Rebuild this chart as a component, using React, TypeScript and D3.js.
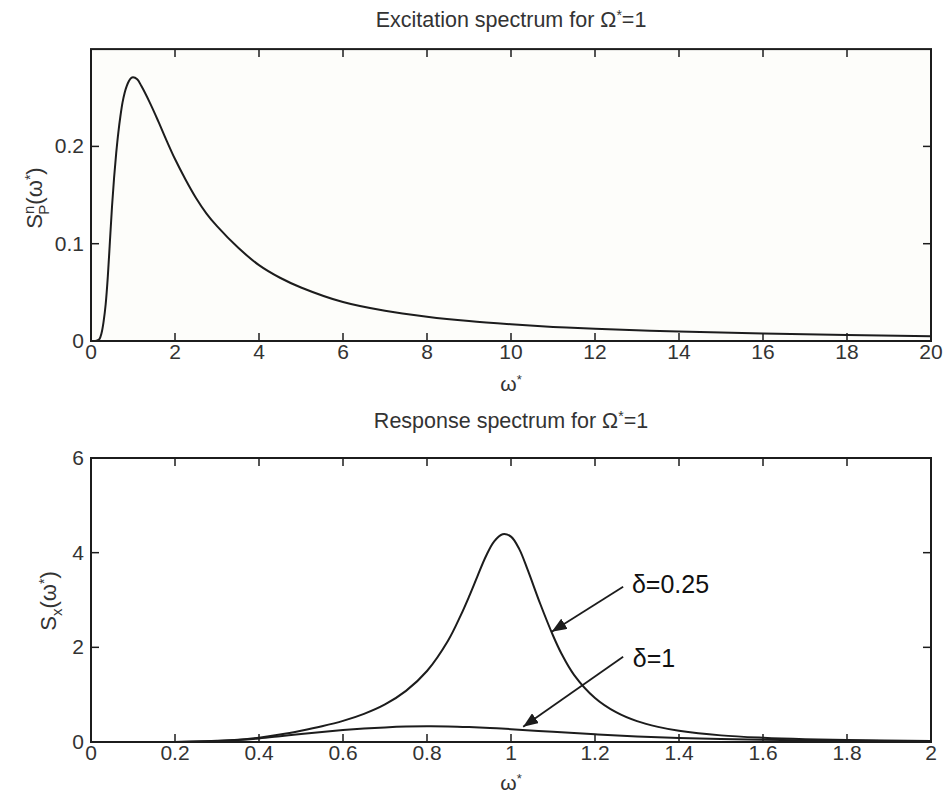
import React from "react";
import * as d3 from "d3";

// ---- Data ----
const excOmega = [0,0.1,0.15,0.2,0.25,0.3,0.35,0.4,0.45,0.5,0.55,0.6,0.65,0.7,0.75,0.8,0.85,0.9,0.95,1.0,1.1,1.2,1.4,1.6,1.8,2,2.25,2.5,2.75,3,3.5,4,4.5,5,6,7,8,9,10,11,12,14,16,18,20];
const excValues = [0,0,0.0005,0.002,0.008,0.02,0.038,0.066,0.102,0.138,0.168,0.193,0.214,0.231,0.245,0.255,0.262,0.267,0.270,0.271,0.269,0.262,0.245,0.226,0.206,0.187,0.166,0.147,0.131,0.118,0.096,0.078,0.065,0.055,0.040,0.031,0.025,0.0205,0.0172,0.0145,0.0125,0.0098,0.0078,0.0062,0.0048];

const resOmega025 = [0,0.2,0.25,0.3,0.35,0.4,0.45,0.5,0.55,0.6,0.65,0.7,0.75,0.8,0.85,0.88,0.9,0.92,0.94,0.96,0.98,1.0,1.02,1.04,1.07,1.1,1.12,1.15,1.2,1.25,1.3,1.35,1.4,1.5,1.6,1.7,1.8,2.0];
const resValues025 = [0,0.002,0.009,0.025,0.049,0.092,0.157,0.239,0.333,0.446,0.595,0.795,1.08,1.50,2.14,2.67,3.07,3.5,3.92,4.24,4.39,4.34,4.07,3.63,2.91,2.25,1.87,1.42,0.93,0.63,0.44,0.32,0.238,0.14,0.089,0.058,0.04,0.02];

const resOmega1 = [0,0.2,0.3,0.35,0.4,0.45,0.5,0.55,0.6,0.65,0.7,0.75,0.8,0.85,0.9,0.95,1.0,1.1,1.2,1.3,1.4,1.5,1.6,1.8,2.0];
const resValues1 = [0,0.002,0.022,0.043,0.076,0.122,0.17,0.213,0.251,0.283,0.308,0.325,0.331,0.328,0.315,0.296,0.271,0.214,0.162,0.118,0.086,0.063,0.046,0.025,0.014];

const topXTicks = [0,2,4,6,8,10,12,14,16,18,20];
const topYTicks = [0,0.1,0.2];
const botXTicks = [0,0.2,0.4,0.6,0.8,1,1.2,1.4,1.6,1.8,2];
const botYTicks = [0,2,4,6];

const topTitle = "Excitation spectrum for Ω";
const botTitle = "Response spectrum for Ω";

// annotation: label, text anchor point, arrow start, arrow tip (data coords)
const annLabels = ["δ=0.25", "δ=1"];
const annText = [[1.288, 3.15], [1.29, 1.58]];
const annFrom = [[1.267, 3.28], [1.267, 1.80]];
const annTip = [[1.097, 2.33], [1.029, 0.32]];

const FONT = "'Liberation Sans', Arial, Helvetica, sans-serif";
const INK = "#1c1c1c";
const TXT = "#333";

function Axes({ x, y, xTicks, yTicks, bg }: any) {
  const [x0, x1] = x.range();
  const [y0, y1] = y.range();
  const tl = 8;
  return (
    <g>
      <rect x={x0} y={y1} width={x1 - x0} height={y0 - y1} fill={bg} />
      {xTicks.map((t: number) => (
        <g key={"xt" + t}>
          <line x1={x(t)} x2={x(t)} y1={y0} y2={y0 - tl} stroke={INK} strokeWidth={1.5} />
          <line x1={x(t)} x2={x(t)} y1={y1} y2={y1 + tl} stroke={INK} strokeWidth={1.5} />
          <text x={x(t)} y={y0 + 18} fontSize={21} fill={TXT} textAnchor="middle" fontFamily={FONT}>{String(t)}</text>
        </g>
      ))}
      {yTicks.map((t: number) => (
        <g key={"yt" + t}>
          <line x1={x0} x2={x0 + tl} y1={y(t)} y2={y(t)} stroke={INK} strokeWidth={1.5} />
          <line x1={x1} x2={x1 - tl} y1={y(t)} y2={y(t)} stroke={INK} strokeWidth={1.5} />
          <text x={x0 - 7} y={y(t) + 7} fontSize={21} fill={TXT} textAnchor="end" fontFamily={FONT}>{String(t)}</text>
        </g>
      ))}
    </g>
  );
}

function Frame({ x, y }: any) {
  const [x0, x1] = x.range();
  const [y0, y1] = y.range();
  return <rect x={x0} y={y1} width={x1 - x0} height={y0 - y1} fill="none" stroke={INK} strokeWidth={2} />;
}

export default function App() {
  const left = 91, right = 931;
  const xTop = d3.scaleLinear().domain([0, 20]).range([left, right]);
  const yTop = d3.scaleLinear().domain([0, 0.3]).range([341, 49.1]);
  const xBot = d3.scaleLinear().domain([0, 2]).range([left, right]);
  const yBot = d3.scaleLinear().domain([0, 6]).range([742, 458]);

  const smooth = d3.curveCatmullRom.alpha(0.5);
  const lineTop = d3.line<number>()
    .x((_, i) => xTop(excOmega[i]))
    .y((d) => yTop(d))
    .curve(smooth);
  const line025 = d3.line<number>()
    .x((_, i) => xBot(resOmega025[i]))
    .y((d) => yBot(d))
    .curve(smooth);
  const line1 = d3.line<number>()
    .x((_, i) => xBot(resOmega1[i]))
    .y((d) => yBot(d))
    .curve(smooth);

  const cx = (left + right) / 2;

  return (
    <svg width={945} height={794} style={{ position: "absolute", left: 0, top: 0, background: "#fff" }}>
      <defs>
        <marker id="ah" markerUnits="userSpaceOnUse" markerWidth={16} markerHeight={12} refX={15} refY={6} orient="auto">
          <path d="M0,0 L15,6 L0,12 z" fill={INK} />
        </marker>
        <clipPath id="clipTop"><rect x={left} y={49} width={right - left} height={292} /></clipPath>
        <clipPath id="clipBot"><rect x={left} y={458} width={right - left} height={284} /></clipPath>
      </defs>

      {/* Top plot */}
      <text x={cx} y={27} fontSize={21.5} fill={TXT} textAnchor="middle" fontFamily={FONT}>
        {topTitle}<tspan dy={-7} fontSize={14}>*</tspan><tspan dy={7}>=1</tspan>
      </text>
      <Axes x={xTop} y={yTop} xTicks={topXTicks} yTicks={topYTicks} bg="#fdfdfa" />
      <path d={lineTop(excValues) || ""} fill="none" stroke={INK} strokeWidth={2} clipPath="url(#clipTop)" />
      <Frame x={xTop} y={yTop} />
      <text x={cx} y={391} fontSize={21} fill={TXT} textAnchor="middle" fontFamily={FONT}>
        ω<tspan dy={-7} fontSize={13}>*</tspan>
      </text>
      <text transform="translate(42,198) rotate(-90)" fontSize={22} fill={TXT} textAnchor="middle" fontFamily={FONT}>
        S<tspan dy={-8} fontSize={15}>n</tspan><tspan dx={-9} dy={15} fontSize={15}>P</tspan><tspan dy={-7}>(ω</tspan><tspan dy={-7} fontSize={14}>*</tspan><tspan dy={7}>)</tspan>
      </text>

      {/* Bottom plot */}
      <text x={cx} y={428} fontSize={21.5} fill={TXT} textAnchor="middle" fontFamily={FONT}>
        {botTitle}<tspan dy={-7} fontSize={14}>*</tspan><tspan dy={7}>=1</tspan>
      </text>
      <Axes x={xBot} y={yBot} xTicks={botXTicks} yTicks={botYTicks} bg="#fff" />
      <path d={line025(resValues025) || ""} fill="none" stroke={INK} strokeWidth={2} clipPath="url(#clipBot)" />
      <path d={line1(resValues1) || ""} fill="none" stroke={INK} strokeWidth={2} clipPath="url(#clipBot)" />
      <Frame x={xBot} y={yBot} />
      <text x={cx} y={790} fontSize={21} fill={TXT} textAnchor="middle" fontFamily={FONT}>
        ω<tspan dy={-7} fontSize={13}>*</tspan>
      </text>
      <text transform="translate(56,601) rotate(-90)" fontSize={22} fill={TXT} textAnchor="middle" fontFamily={FONT}>
        S<tspan dy={6} fontSize={15}>x</tspan><tspan dy={-6}>(ω</tspan><tspan dy={-7} fontSize={14}>*</tspan><tspan dy={7}>)</tspan>
      </text>

      {annLabels.map((lab, i) => (
        <g key={lab}>
          <line x1={xBot(annFrom[i][0])} y1={yBot(annFrom[i][1])} x2={xBot(annTip[i][0])} y2={yBot(annTip[i][1])}
            stroke={INK} strokeWidth={1.8} markerEnd="url(#ah)" />
          <text x={xBot(annText[i][0])} y={yBot(annText[i][1])} fontSize={25} fill="#111" fontFamily={FONT}>{lab}</text>
        </g>
      ))}
    </svg>
  );
}
